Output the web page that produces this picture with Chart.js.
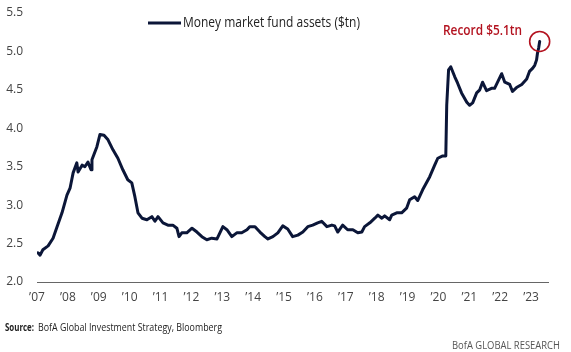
<!DOCTYPE html>
<html>
<head>
<meta charset="utf-8">
<script src="https://cdn.jsdelivr.net/npm/chart.js@4/dist/chart.umd.min.js"></script>
<style>
  html, body { margin: 0; padding: 0; background: #fff; }
  #wrap { position: relative; width: 571px; height: 352px; }
</style>
</head>
<body>
<div id="wrap"><canvas id="chart" width="571" height="352"></canvas></div>
<script>
// decimal year of each reading
const years = [
  2007.03, 2007.10, 2007.19, 2007.36, 2007.52, 2007.65, 2007.81, 2007.97,
  2008.07, 2008.17, 2008.29, 2008.33, 2008.46, 2008.55, 2008.65, 2008.75, 2008.78, 2008.94,
  2009.04, 2009.17, 2009.30, 2009.46, 2009.62, 2009.78, 2009.94,
  2010.07, 2010.17, 2010.27, 2010.40, 2010.56, 2010.72, 2010.82, 2010.92,
  2011.08, 2011.24, 2011.40, 2011.53, 2011.60, 2011.69, 2011.85,
  2012.02, 2012.18, 2012.34, 2012.50, 2012.66, 2012.83,
  2013.02, 2013.15, 2013.31, 2013.47, 2013.63, 2013.80, 2013.89,
  2014.06, 2014.22, 2014.38, 2014.48, 2014.64, 2014.80, 2014.96,
  2015.12, 2015.28, 2015.45, 2015.61, 2015.77, 2015.93,
  2016.09, 2016.22, 2016.39, 2016.55, 2016.64, 2016.74, 2016.90,
  2017.06, 2017.23, 2017.39, 2017.52, 2017.61, 2017.78, 2017.94,
  2018.04, 2018.17, 2018.26, 2018.42, 2018.49, 2018.65, 2018.81, 2018.97,
  2019.07, 2019.23, 2019.33, 2019.49, 2019.72, 2019.88, 2019.98,
  2020.14, 2020.24, 2020.27, 2020.33, 2020.40, 2020.53, 2020.62, 2020.75, 2020.92,
  2021.01, 2021.11, 2021.24, 2021.34, 2021.43, 2021.56, 2021.72, 2021.82,
  2022.05, 2022.15, 2022.31, 2022.40, 2022.53, 2022.70, 2022.86, 2022.95,
  2023.05, 2023.12, 2023.18, 2023.21, 2023.25, 2023.28
]

// money market fund assets, $tn
const assets = [
  2.38, 2.35, 2.42, 2.47, 2.57, 2.72, 2.90, 3.13,
  3.22, 3.42, 3.55, 3.43, 3.52, 3.50, 3.56, 3.46, 3.59, 3.76,
  3.92, 3.91, 3.85, 3.72, 3.61, 3.46, 3.33,
  3.29, 3.11, 2.90, 2.83, 2.81, 2.85, 2.79, 2.85,
  2.77, 2.74, 2.74, 2.70, 2.59, 2.64, 2.64,
  2.70, 2.65, 2.59, 2.55, 2.57, 2.56,
  2.72, 2.68, 2.59, 2.64, 2.64, 2.68, 2.72,
  2.72, 2.65, 2.59, 2.56, 2.59, 2.64, 2.73,
  2.69, 2.59, 2.61, 2.65, 2.72, 2.74,
  2.77, 2.79, 2.72, 2.74, 2.73, 2.65, 2.74,
  2.68, 2.68, 2.64, 2.65, 2.72, 2.77, 2.83,
  2.87, 2.83, 2.86, 2.81, 2.87, 2.90, 2.90, 2.96,
  3.07, 3.11, 3.06, 3.20, 3.37, 3.52, 3.61,
  3.64, 3.64, 4.30, 4.76, 4.80, 4.67, 4.59, 4.46, 4.34,
  4.30, 4.33, 4.46, 4.50, 4.60, 4.49, 4.52, 4.52,
  4.71, 4.60, 4.57, 4.48, 4.53, 4.57, 4.64, 4.74,
  4.78, 4.82, 4.89, 4.98, 5.05, 5.13
]

const tickYears = [2007, 2008, 2009, 2010, 2011, 2012, 2013, 2014, 2015, 2016, 2017, 2018, 2019, 2020, 2021, 2022, 2023]
const yTicks = [2.0, 2.5, 3.0, 3.5, 4.0, 4.5, 5.0, 5.5]

const seriesName = 'Money market fund assets ($tn)'
const recordLabel = 'Record $5.1tn'
const sourceLabel = 'BofA Global Investment Strategy, Bloomberg'
const brandLabel = 'BofA GLOBAL RESEARCH'

const navy = '#0b1638'
const red = '#b3121f'
const font = '"Open Sans", "DejaVu Sans", sans-serif'

const extras = {
  id: 'extras',
  afterDraw (chart) {
    const ctx = chart.ctx
    const x = chart.scales.x
    const y = chart.scales.y
    ctx.save()

    // legend
    ctx.strokeStyle = navy
    ctx.lineWidth = 3
    ctx.beginPath()
    ctx.moveTo(148, 23)
    ctx.lineTo(181, 23)
    ctx.stroke()
    ctx.fillStyle = '#222'
    ctx.font = '14px ' + font
    ctx.textBaseline = 'middle'
    ctx.fillText(seriesName, 183, 23, 177)

    // record marker on the last point
    const last = assets.length - 1
    const px = x.getPixelForValue(years[last])
    const py = y.getPixelForValue(assets[last])
    ctx.strokeStyle = red
    ctx.lineWidth = 1.6
    ctx.beginPath()
    ctx.arc(px, py, 10, 0, Math.PI * 2)
    ctx.stroke()
    ctx.fillStyle = red
    ctx.font = '600 14px ' + font
    ctx.fillText(recordLabel, 443, 31, 79)

    // footer
    ctx.fillStyle = '#222'
    ctx.font = 'bold 10px ' + font
    ctx.fillText('Source:', 5, 328, 29)
    ctx.font = '10px ' + font
    ctx.fillText(sourceLabel, 38, 328, 184)
    ctx.fillStyle = '#555'
    ctx.fillText(brandLabel, 452, 346, 108)

    ctx.restore()
  }
}

new Chart(document.getElementById('chart').getContext('2d'), {
  type: 'line',
  data: {
    datasets: [{
      label: seriesName,
      data: years.map((t, i) => ({ x: t, y: assets[i] })),
      borderColor: navy,
      borderWidth: 3,
      borderJoinStyle: 'round',
      borderCapStyle: 'round',
      pointRadius: 0,
      tension: 0
    }]
  },
  options: {
    responsive: false,
    animation: false,
    layout: { padding: { top: 13, right: 23, left: 0, bottom: 0 } },
    plugins: { legend: { display: false }, tooltip: { enabled: false } },
    scales: {
      x: {
        type: 'linear',
        min: 2007,
        max: 2023.55,
        afterBuildTicks: scale => { scale.ticks = tickYears.map(v => ({ value: v })) },
        afterFit: scale => { scale.height = 70; scale.paddingLeft = 0; scale.paddingRight = 0 },
        grid: { display: false, drawTicks: false },
        border: { display: true, color: '#666', width: 1 },
        ticks: {
          padding: 8,
          maxRotation: 0,
          autoSkip: false,
          color: '#444',
          font: { family: font, size: 12 },
          callback: v => '\u2019' + String(v).slice(2)
        }
      },
      y: {
        min: 2,
        max: 5.5,
        afterBuildTicks: scale => { scale.ticks = yTicks.map(v => ({ value: v })) },
        afterFit: scale => { scale.width = 37; scale.paddingTop = 0; scale.paddingBottom = 0 },
        grid: { display: false, drawTicks: false },
        border: { display: false },
        ticks: {
          padding: 14,
          color: '#444',
          font: { family: font, size: 12 },
          callback: v => v.toFixed(1)
        }
      }
    }
  },
  plugins: [extras]
})
</script>
</body>
</html>
